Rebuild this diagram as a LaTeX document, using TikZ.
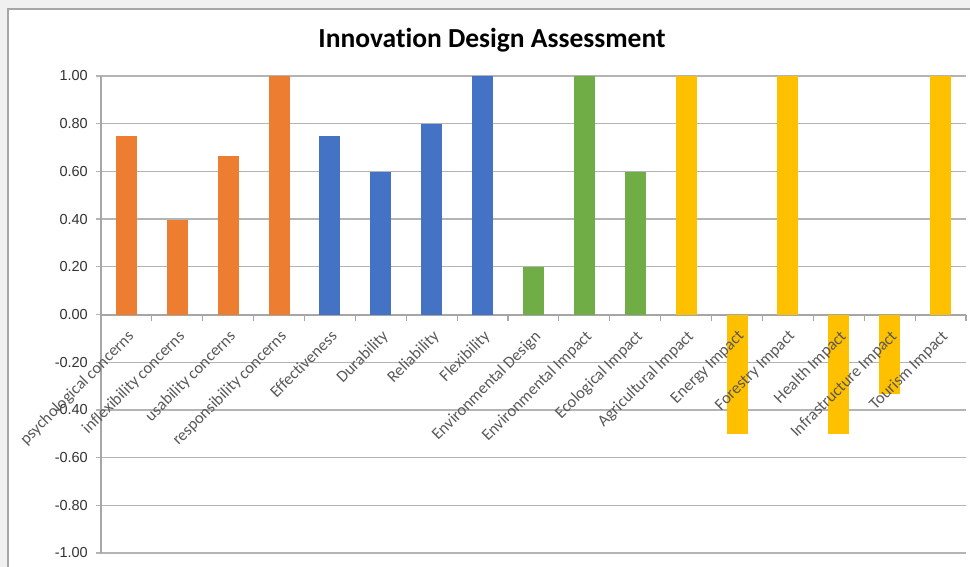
\documentclass[tikz,border=0pt]{standalone}
\usepackage{fontspec}
\setmainfont{Carlito}[Ligatures=NoCommon]
\newfontfamily\valuefont{Liberation Sans}
\usepackage{tikz}
\definecolor{barOrange}{HTML}{ED7D31}
\definecolor{barBlue}{HTML}{4472C4}
\definecolor{barGreen}{HTML}{70AD47}
\definecolor{barGold}{HTML}{FFC000}
\definecolor{gridGray}{HTML}{B4B4B4}
\definecolor{axisGray}{HTML}{A6A6A6}
\definecolor{labelGray}{HTML}{595959}
\definecolor{paneGray}{HTML}{F0F0F0}

\begin{document}
\begin{tikzpicture}[x=1pt, y=-1pt,
                gridline/.style={draw=gridGray, line width=1.2pt},
                axisline/.style={draw=axisGray, line width=1.1pt},
                ylab/.style={anchor=east, inner sep=0pt, text=black!80,
                  font=\valuefont\fontsize{14.5}{16}\selectfont},
                catlab/.style={anchor=north east, rotate=45, inner sep=0pt, text=labelGray,
                  font=\fontsize{16.5}{18}\selectfont},
              ]
              \useasboundingbox (0,0) rectangle (970,567);
              % window and chart area
              \fill[paneGray] (0,0) rectangle (970,567);
              \fill[white] (8,9) rectangle (970,567);
              \draw[axisGray, line width=2pt] (8,567) -- (8,9) -- (970,9);

              \node[font=\bfseries\fontsize{27.5}{30}\selectfont] (title) at (492,40) {Innovation Design Assessment};

              % value grid with labels
              \foreach \lab [count=\k from 0] in {1.00,0.80,0.60,0.40,0.20,0.00,-0.20,-0.40,-0.60,-0.80,-1.00} {
                \draw[gridline] (96,{76+\k*47.7}) -- (966,{76+\k*47.7});
                \node[ylab] (ylab\k) at (88,{76+\k*47.7}) {\lab};
              }
              \draw[axisline] (101,76) -- (101,553);
              \draw[axisline] (101,315) -- (966,315);
              \foreach \k in {1,...,17}
                \draw[axisline] ({101+\k*50.88},315) -- ++(0,6);

              % bars
              \foreach \v/\c [count=\i] in {0.75/barOrange,0.40/barOrange,0.667/barOrange,1.00/barOrange,
                  0.75/barBlue,0.60/barBlue,0.80/barBlue,1.00/barBlue,
                  0.20/barGreen,1.00/barGreen,0.60/barGreen,
                  1.00/barGold,-0.50/barGold,1.00/barGold,-0.50/barGold,-0.333/barGold,1.00/barGold} {
                \pgfmathsetmacro\cx{101+(\i-0.5)*50.88}
                \fill[\c] ({\cx-10.5},315) rectangle ({\cx+10.5},{315-238.5*\v});
              }

              % category labels
              \foreach \name [count=\i] in {psychological concerns,inflexibility concerns,usability concerns,
                  responsibility concerns,Effectiveness,Durability,Reliability,Flexibility,
                  Environmental Design,Environmental Impact,Ecological Impact,Agricultural Impact,
                  Energy Impact,Forestry Impact,Health Impact,Infrastructure Impact,Tourism Impact}
                \node[catlab] (cat\i) at ({101+(\i-0.5)*50.88},329) {\name};
            \end{tikzpicture}
\end{document}
